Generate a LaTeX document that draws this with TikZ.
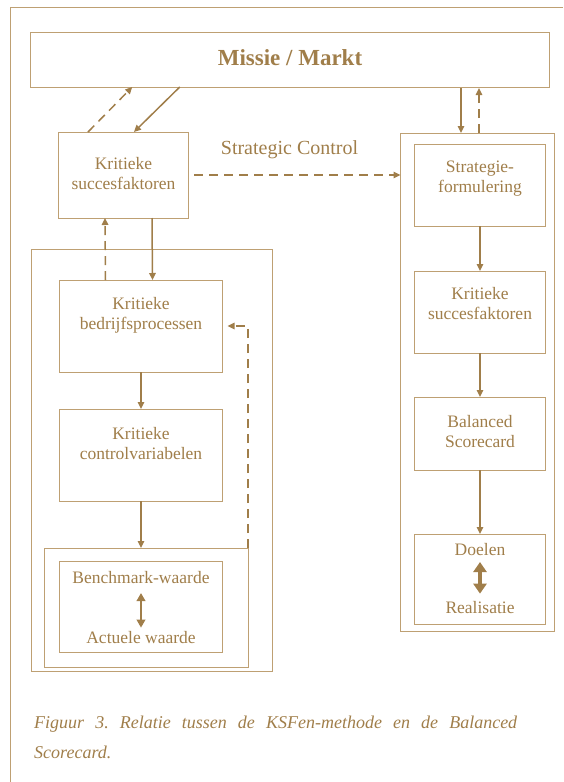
\documentclass[tikz,border=0pt]{standalone}
\usepackage{fontspec}
\setmainfont{Liberation Serif}
\usetikzlibrary{arrows.meta}

\definecolor{goud}{RGB}{160,126,74}
\definecolor{goudlicht}{RGB}{190,160,115}

\tikzset{
	box/.style={draw=goudlicht, line width=0.9pt, inner sep=0pt, outer sep=0pt},
	lbl/.style={text=goud, align=center, font=\fontsize{17.5}{20}\selectfont, inner sep=0pt},
	pijl/.style={draw=goud, line width=1.5pt, -{Triangle[length=7pt,width=6.5pt]}},
	stip/.style={pijl, dash pattern=on 9pt off 6pt},
}

\begin{document}
\begin{tikzpicture}[x=1pt,y=-1pt]
	\useasboundingbox (0,0) rectangle (563,782);
	\draw[goudlicht, line width=1.6pt] (563,7.5) -- (10.5,7.5) -- (10.5,782);

	% bovenste balk
	\node[box, minimum width=518.5, minimum height=55] (missie) at (290,59.5) {};
	\node[lbl, font=\fontsize{23}{24}\selectfont\bfseries] (missie-t) at (290,58) {Missie / Markt};

	% linker kolom
	\node[box, minimum width=130, minimum height=86] (ksfl) at (123.5,175) {};
	\node[lbl] (ksfl-t) at (123.5,174) {Kritieke\\succesfaktoren};
	\node[box, minimum width=241, minimum height=422] (links) at (151.5,460) {};
	\node[box, minimum width=163, minimum height=92] (kbp) at (141,326) {};
	\node[lbl] (kbp-t) at (141,315) {Kritieke\\bedrijfsprocessen};
	\node[box, minimum width=163, minimum height=92] (kcv) at (141,455) {};
	\node[lbl] (kcv-t) at (141,444) {Kritieke\\controlvariabelen};
	\node[box, minimum width=204, minimum height=119] (bmo) at (146,607.5) {};
	\node[box, minimum width=163, minimum height=91] (bmi) at (141,606.5) {};
	\node[lbl, anchor=base] (bw) at (141,583) {Benchmark-waarde};
	\node[lbl, anchor=base] (aw) at (141,643) {Actuele waarde};

	\node[text=goud, font=\fontsize{20}{22}\selectfont, inner sep=0pt] (sc) at (289.5,150) {Strategic Control};

	% rechter kolom
	\node[box, minimum width=153.5, minimum height=498] (rechts) at (477.25,382) {};
	\node[box, minimum width=130.5, minimum height=82] (sf) at (480,185) {};
	\node[lbl] (sf-t) at (480,178.5) {Strategie-\\formulering};
	\node[box, minimum width=130.5, minimum height=82] (ksfr) at (480,312) {};
	\node[lbl] (ksfr-t) at (480,304) {Kritieke\\succesfaktoren};
	\node[box, minimum width=130.5, minimum height=73] (bsc) at (480,433.5) {};
	\node[lbl] (bsc-t) at (480,431.5) {Balanced\\Scorecard};
	\node[box, minimum width=130.5, minimum height=90] (doel) at (480,579) {};
	\node[lbl, anchor=base] (dl) at (480,555) {Doelen};
	\node[lbl, anchor=base] (rl) at (480,613) {Realisatie};

	% verbindingen
	\draw[stip] ([xshift=29.5]ksfl.north west) -- ([xshift=101.5]missie.south west);
	\draw[pijl] ([xshift=149]missie.south west) -- ([xshift=75.5]ksfl.north west);
	\draw[stip] ([xshift=5.5]ksfl.east) -- (rechts.west |- ksfl.east);
	\draw[pijl] ([xshift=-16.25]rechts.north) ++(0,-45) -- ([xshift=-16.25]rechts.north);
	\draw[stip] ([xshift=1.75]rechts.north) -- ++(0,-45);
	\draw[stip] ([xshift=46]kbp.north west) -- ([xshift=46.5]ksfl.south west);
	\draw[pijl] ([xshift=93.5]ksfl.south west) -- ([xshift=93]kbp.north west);
	\draw[pijl] (kbp.south) -- (kcv.north);
	\draw[pijl] (kcv.south) -- (kcv.south |- bmo.north);
	\draw[stip] (bmo.north east) |- ([xshift=5]kbp.east);
	\draw[pijl] (sf.south) -- (ksfr.north);
	\draw[pijl] (ksfr.south) -- (bsc.north);
	\draw[pijl] (bsc.south) -- (doel.north);
	\draw[goud, line width=2.6pt, {Triangle[length=8pt,width=8.5pt]}-{Triangle[length=8pt,width=8.5pt]}]
		([yshift=-10]bw.base) -- ([yshift=3]aw.north);
	\draw[goud, line width=3.5pt, {Triangle[length=10pt,width=13pt]}-{Triangle[length=10pt,width=13pt]}]
		([yshift=-7]dl.base) -- ([yshift=7]rl.north);

	% onderschrift
	\node[text=goud, anchor=base west, align=left, inner sep=0pt,
		font=\fontsize{18}{30}\selectfont\itshape\frenchspacing] (cap) at (34,758)
		{\makebox[483pt][s]{Figuur 3. Relatie tussen de KSFen-methode en de Balanced}\\Scorecard.};
\end{tikzpicture}
\end{document}
